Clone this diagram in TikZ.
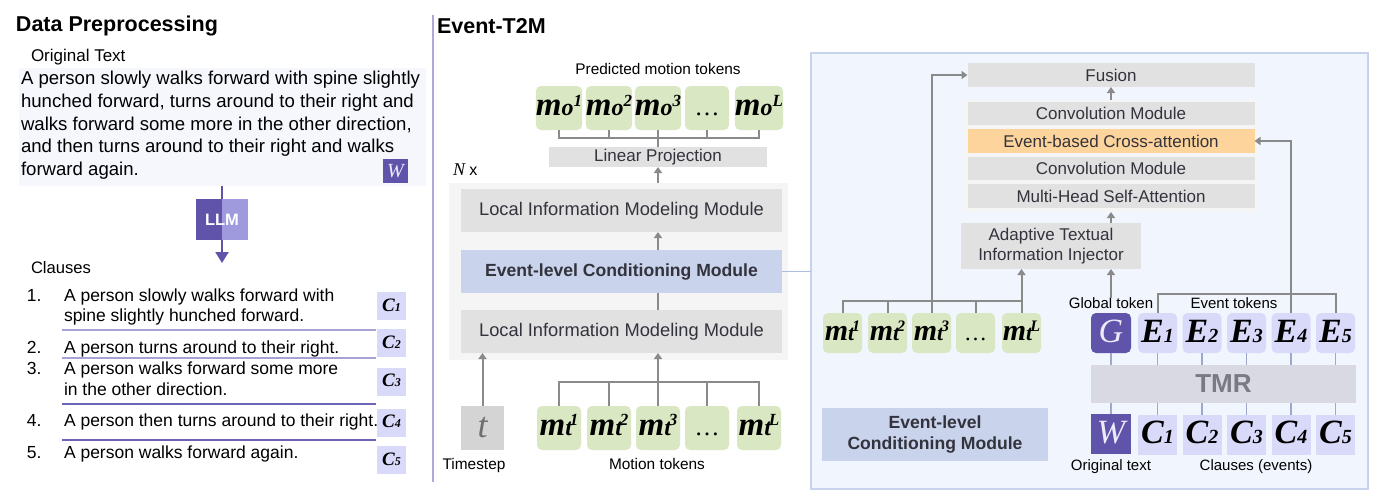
\documentclass[tikz,border=0pt]{standalone}
\usepackage{fontspec}
\setmainfont{Liberation Sans}
\newfontfamily\tokserif{Liberation Serif}
\usetikzlibrary{arrows.meta}
\newcommand\fsz[1]{\fontsize{#1}{#1}\selectfont}
\newcommand\motok[2]{\tokserif\bfseries\itshape\fsz{33}m\fsz{24}#1\raisebox{8.5pt}{\fsz{17}#2}}
\newcommand\mttok[1]{\tokserif\bfseries\itshape\fsz{33}m\fsz{24}t\kern-2pt\raisebox{9.5pt}{\fsz{17}#1}}
\newcommand\mttoks[1]{\tokserif\bfseries\itshape\fsz{30}m\fsz{22}t\kern-2pt\raisebox{8.5pt}{\fsz{16}#1}}
\newcommand\bigsub[2]{\tokserif\bfseries\itshape\fsz{34}#1\fsz{20}#2}
\newcommand\smallsub[2]{\tokserif\bfseries\itshape\fsz{19}#1\fsz{12}#2}
\definecolor{boxgray}{HTML}{E1E1E1}
\definecolor{boxtext}{HTML}{33333D}
\definecolor{contgray}{HTML}{F5F5F5}
\definecolor{ecmblue}{HTML}{C9D3EB}
\definecolor{ecmline}{HTML}{ADBCE3}
\definecolor{tokgreen}{HTML}{D9E7C3}
\definecolor{panelfill}{HTML}{F1F5FD}
\definecolor{panelline}{HTML}{C8D2EC}
\definecolor{ecaorange}{HTML}{FDD59C}
\definecolor{toklav}{HTML}{D9D9FA}
\definecolor{purp}{HTML}{5F54AA}
\definecolor{purplight}{HTML}{9F99DD}
\definecolor{tmrfill}{HTML}{D9D9E3}
\definecolor{tmrtext}{HTML}{7A7A86}
\definecolor{arrgray}{HTML}{8A8A8A}
\definecolor{tokline}{HTML}{9DA8CC}
\definecolor{textbgc}{HTML}{F5F7FD}
\definecolor{divline}{HTML}{ADA9DA}
\definecolor{clline1}{HTML}{A7A2D6}
\definecolor{clline2}{HTML}{6C64B9}
\definecolor{tgray}{HTML}{D4D4D4}
\definecolor{ttext}{HTML}{6F6F6F}
\definecolor{Wtext}{HTML}{ECEAFB}
\begin{document}
\begin{tikzpicture}[x=1pt,y=-1pt,
  every node/.style={inner sep=0pt, outer sep=0pt},
  gbox/.style={rectangle, fill=boxgray, text=boxtext},
  greentok/.style={rectangle, rounded corners=5pt, fill=tokgreen, minimum width=44pt, minimum height=44pt, text height=18pt, text depth=4pt},
  greentoks/.style={rectangle, rounded corners=5pt, fill=tokgreen, minimum width=39pt, minimum height=40pt, text height=17pt, text depth=3pt},
  lavtok/.style={rectangle, fill=toklav, minimum width=39pt, minimum height=40pt, text height=21pt, text depth=3pt},
  lavtoks/.style={rectangle, fill=toklav, minimum width=29pt, minimum height=28pt, text height=12pt, text depth=2pt},
  conn/.style={draw=arrgray, line width=2pt},
  arr/.style={conn, -{Triangle[width=8pt,length=6pt]}},
  tokconn/.style={draw=tokline, line width=1.5pt},
  para/.style={anchor=west, font=\fsz{18.6}, text height=13.5pt, text depth=4pt},
  cl/.style={anchor=west, font=\fsz{17.5}, text height=13pt, text depth=4pt},
  lbl/.style={font=\fsz{15.4}, text height=11pt, text depth=3pt},
  slbl/.style={font=\fsz{15}, text height=10.5pt, text depth=3pt},
  boxfont/.style={font=\fsz{17}}
]
\useasboundingbox (0,0) rectangle (1379,499);
\fill[white] (0,0) rectangle (1379,499);

% ---------------- Left panel ----------------
\node[anchor=west, font=\bfseries\fsz{21.5}] (title1) at (16,26) {Data Preprocessing};
\node[anchor=west, font=\fsz{17}] (origlbl) at (31,57) {Original Text};
\node[rectangle, fill=textbgc, minimum width=407pt, minimum height=118pt] (textbg) at (222.5,127) {};
\node[para] (p1) at (21,80) {A person slowly walks forward with spine slightly};
\node[para] (p2) at (21,103) {hunched forward, turns around to their right and};
\node[para] (p3) at (21,126) {walks forward some more in the other direction,};
\node[para] (p4) at (21,148) {and then turns around to their right and walks};
\node[para] (p5) at (21,171) {forward again.};
\node[rectangle, fill=purp, minimum width=25pt, minimum height=24pt, text=Wtext, font=\tokserif\itshape\fsz{20}] (wleft) at (395.5,171) {W};

\node[rectangle, fill=purplight, minimum width=52pt, minimum height=41pt,
  path picture={\fill[purp] (path picture bounding box.south west) rectangle (path picture bounding box.north);},
  font=\bfseries\fsz{16.5}, text=white] (llm) at (222,219.5) {LLM};
\coordinate (llmend) at (222,263);
\draw[draw=purp, line width=2.2pt] (textbg.south -| llm.north) -- (llm.north);
\draw[draw=purp, line width=2.2pt, -{Triangle[width=13pt,length=11pt]}] (llm.south) -- (llmend);

\node[anchor=west, font=\fsz{16.6}] (cllbl) at (31,268) {Clauses};
\node[cl] (n1) at (27,297) {1.};
\node[cl] (c1a) at (64,297) {A person slowly walks forward with};
\node[cl] (c1b) at (64,317) {spine slightly hunched forward.};
\node[cl] (n2) at (27,349) {2.};
\node[cl] (c2a) at (64,349) {A person turns around to their right.};
\node[cl] (n3) at (27,370) {3.};
\node[cl] (c3a) at (64,370) {A person walks forward some more};
\node[cl] (c3b) at (64,391) {in the other direction.};
\node[cl] (n4) at (27,422) {4.};
\node[cl] (c4a) at (64,422) {A person then turns around to their right.};
\node[cl] (n5) at (27,454) {5.};
\node[cl] (c5a) at (64,454) {A person walks forward again.};
\draw[draw=clline1, line width=1.5pt] (62,330) -- (376,330);
\draw[draw=clline1, line width=1.5pt] (62,358) -- (376,358);
\draw[draw=clline2, line width=1.5pt] (62,404) -- (376,404);
\draw[draw=clline2, line width=1.5pt] (62,440) -- (376,440);
\node[lavtoks] (lc1) at (391.5,306) {\smallsub{C}{1}};
\node[lavtoks] (lc2) at (391.5,343) {\smallsub{C}{2}};
\node[lavtoks] (lc3) at (391.5,381.5) {\smallsub{C}{3}};
\node[lavtoks] (lc4) at (391.5,422.5) {\smallsub{C}{4}};
\node[lavtoks] (lc5) at (391.5,460) {\smallsub{C}{5}};

\draw[draw=divline, line width=2pt] (433,15) -- (433,482);

% ---------------- Middle ----------------
\node[anchor=west, font=\bfseries\fsz{21.5}] (title2) at (437,26) {Event-T2M};
\node[lbl] (predlbl) at (658,70) {Predicted motion tokens};
\node[greentok] (mo1) at (559,108) {\motok{o}{1}};
\node[greentok] (mo2) at (609,108) {\motok{o}{2}};
\node[greentok] (mo3) at (658,108) {\motok{o}{3}};
\node[greentok] (mo4) at (707,108) {\tokserif\fsz{25}\dots};
\node[greentok] (mo5) at (759,108) {\motok{o}{L}};
\node[gbox, minimum width=218pt, minimum height=20pt, font=\fsz{17}] (lp) at (658,157) {Linear Projection};
\coordinate (mobr) at (658,138);
\draw[conn] (mo1.south) |- (mobr) -| (mo5.south);
\draw[conn] (mo2.south) -- (mo2.south |- mobr);
\draw[conn] (mo4.south) -- (mo4.south |- mobr);
\draw[conn] (mo3.south) -- (lp.north);
\node[anchor=west, font=\fsz{16}] (nx) at (453,170) {{\tokserif\itshape\fsz{18}N} x};

\node[rectangle, fill=contgray, minimum width=339pt, minimum height=177pt] (cont) at (618.5,271.5) {};
\node[gbox, minimum width=321pt, minimum height=43pt, font=\fsz{18.3}] (limm1) at (621.5,210.5) {Local Information Modeling Module};
\node[rectangle, fill=ecmblue, text=boxtext, minimum width=321pt, minimum height=43pt, font=\bfseries\fsz{17.6}] (ecm) at (621.5,271.5) {Event-level Conditioning Module};
\node[gbox, minimum width=321pt, minimum height=43pt, font=\fsz{18.3}] (limm2) at (621.5,331.5) {Local Information Modeling Module};
\draw[arr] (cont.north -| lp.south) -- (lp.south);
\draw[arr] (ecm.north -| lp.south) -- (limm1.south -| lp.south);
\draw[conn] (limm2.north -| lp.south) -- (ecm.south -| lp.south);

\node[rectangle, fill=tgray, minimum width=43pt, minimum height=44pt, text=ttext, font=\tokserif\itshape\fsz{36}] (tbox) at (482.5,428) {t};
\draw[arr] (tbox.north) -- (limm2.south -| tbox.north);
\node[greentok] (mt1) at (559,428) {\mttok{1}};
\node[greentok] (mt2) at (609,428) {\mttok{2}};
\node[greentok] (mt3) at (658,428) {\mttok{3}};
\node[greentok] (mt4) at (707,428) {\tokserif\fsz{25}\dots};
\node[greentok] (mt5) at (759,428) {\mttok{L}};
\coordinate (mtbr) at (658,382);
\draw[conn] (mt1.north) |- (mtbr) -| (mt5.north);
\draw[conn] (mt2.north) -- (mt2.north |- mtbr);
\draw[conn] (mt4.north) -- (mt4.north |- mtbr);
\draw[arr] (mt3.north) -- (limm2.south -| mt3.north);
\node[lbl] (tslbl) at (474,465) {Timestep};
\node[lbl] (mtlbl) at (657,465) {Motion tokens};

% ---------------- Right panel ----------------
\node[rectangle, fill=panelfill, draw=panelline, line width=2pt, minimum width=557pt, minimum height=436pt] (panel) at (1089.5,271) {};
\draw[draw=ecmline, line width=1.5pt] (ecm.east) -- (ecm.east -| panel.west);

\node[gbox, minimum width=287pt, minimum height=24pt, boxfont] (fusion) at (1111,75) {Fusion};
\node[rectangle, fill=contgray, minimum width=294pt, minimum height=112pt] (inner) at (1111,156) {};
\node[gbox, minimum width=287pt, minimum height=23pt, boxfont] (conv1) at (1111,113.5) {Convolution Module};
\node[rectangle, fill=ecaorange, text=boxtext, minimum width=287pt, minimum height=24pt, boxfont] (eca) at (1111,141) {Event-based Cross-attention};
\node[gbox, minimum width=287pt, minimum height=23pt, boxfont] (conv2) at (1111,168.5) {Convolution Module};
\node[gbox, minimum width=287pt, minimum height=24pt, boxfont] (mhsa) at (1111,196) {Multi-Head Self-Attention};
\draw[arr] (inner.north -| fusion.south) -- (fusion.south);

\node[gbox, minimum width=180pt, minimum height=46pt, align=center, font=\fontsize{17}{20}\selectfont] (atii) at (1051,246) {Adaptive Textual\\Information Injector};
\draw[arr] (atii.north -| fusion.south) -- (inner.south -| fusion.south);

\node[greentoks] (rmt1) at (842.5,333) {\mttoks{1}};
\node[greentoks] (rmt2) at (887.5,333) {\mttoks{2}};
\node[greentoks] (rmt3) at (931.5,333) {\mttoks{3}};
\node[greentoks] (rmt4) at (975.5,333) {\tokserif\fsz{23}\dots};
\node[greentoks] (rmt5) at (1021.5,333) {\mttoks{L}};
\coordinate (rmtbr) at (931.5,301);
\draw[conn] (rmt1.north) |- (rmt5.north |- rmtbr);
\draw[conn] (rmt2.north) -- (rmt2.north |- rmtbr);
\draw[conn] (rmt4.north) -- (rmt4.north |- rmtbr);
\draw[arr] (rmt5.north) -- (atii.south -| rmt5.north);
\draw[arr] (rmt3.north) |- (fusion.west);

\node[slbl] (gl) at (1111,305) {Global token};
\node[slbl] (el) at (1234,305) {Event tokens};
\draw[arr] (gl.north) -- (atii.south -| gl.north);

\node[rectangle, rounded corners=5pt, fill=purp, minimum width=40pt, minimum height=40pt, text height=21pt, text depth=3pt, text=Wtext, font=\tokserif\itshape\fsz{34}] (gtok) at (1111,333) {G};
\node[lavtok, rounded corners=5pt] (e1) at (1157.5,333) {\bigsub{E}{1}};
\node[lavtok, rounded corners=5pt] (e2) at (1202,333) {\bigsub{E}{2}};
\node[lavtok, rounded corners=5pt] (e3) at (1246.5,333) {\bigsub{E}{3}};
\node[lavtok, rounded corners=5pt] (e4) at (1291,333) {\bigsub{E}{4}};
\node[lavtok, rounded corners=5pt] (e5) at (1335.5,333) {\bigsub{E}{5}};
\coordinate (ebr) at (1246.5,294);
\draw[conn] (e1.north) |- (e5.north |- ebr) -- (e5.north);
\draw[arr] (e4.north) |- (eca.east);

\node[rectangle, fill=tmrfill, minimum width=265pt, minimum height=38pt, text=tmrtext, font=\bfseries\fsz{26}] (tmr) at (1223.5,384) {TMR};
\node[rectangle, fill=purp, minimum width=40pt, minimum height=40pt, text height=21pt, text depth=3pt, text=Wtext, font=\tokserif\itshape\fsz{34}] (wtok) at (1111,434) {W};
\node[lavtok] (rc1) at (1157.5,434.5) {\bigsub{C}{1}};
\node[lavtok] (rc2) at (1202,434.5) {\bigsub{C}{2}};
\node[lavtok] (rc3) at (1246.5,434.5) {\bigsub{C}{3}};
\node[lavtok] (rc4) at (1291,434.5) {\bigsub{C}{4}};
\node[lavtok] (rc5) at (1335.5,434.5) {\bigsub{C}{5}};

\foreach \t/\c in {gtok/wtok, e1/rc1, e2/rc2, e3/rc3, e4/rc4, e5/rc5}{
  \draw[tokconn] (\t.south) -- (tmr.north -| \t.south);
  \draw[tokconn] (tmr.south -| \c.north) -- (\c.north);
}
\node[slbl] (otl) at (1111,467) {Original text};
\node[slbl] (cel) at (1256,467) {Clauses (events)};

\node[rectangle, fill=ecmblue, text=boxtext, minimum width=226pt, minimum height=53pt, align=center, font=\bfseries\fontsize{17.6}{21}\selectfont] (ecm2) at (935,434.5) {Event-level\\Conditioning Module};
\end{tikzpicture}
\end{document}
